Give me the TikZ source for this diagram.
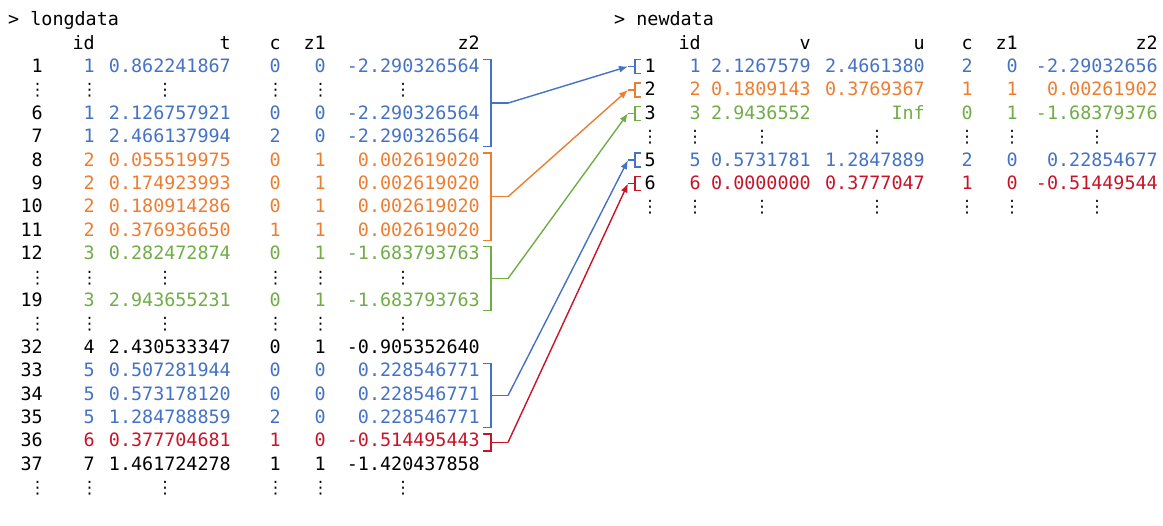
\documentclass[tikz,border=0pt]{standalone}
\usepackage{fontspec}
\setmonofont{DejaVu Sans Mono}
\newfontfamily\dvsans{DejaVu Sans}
\usetikzlibrary{arrows.meta}

\definecolor{cblue}{RGB}{68,114,196}
\definecolor{corange}{RGB}{237,125,49}
\definecolor{cgreen}{RGB}{112,173,71}
\definecolor{cred}{RGB}{200,20,40}

\newcommand{\lrow}[8]{%
  \node[cell] (l#1rn) at (43,{25.7+23.4*#1}) {#3};
  \node[cell,#2] (l#1id) at (95,{25.7+23.4*#1}) {#4};
  \node[cell,#2] (l#1t) at (231,{25.7+23.4*#1}) {#5};
  \node[cell,#2] (l#1c) at (281,{25.7+23.4*#1}) {#6};
  \node[cell,#2] (l#1za) at (326,{25.7+23.4*#1}) {#7};
  \node[cell,#2] (l#1zb) at (480,{25.7+23.4*#1}) {#8};
}
\newcommand{\ldts}[1]{%
  \foreach \x/\n in {37.5/rn,89.5/id,165/t,275.5/c,320.5/za,403/zb}
    \node[dts] (l#1\n) at (\x,{25.7+23.4*#1}) {⋮};
}
\newcommand{\rrow}[9]{%
  \node[cell] (r#1rn) at (656,{25.7+23.4*#1}) {#3};
  \node[cell,#2] (r#1id) at (701,{25.7+23.4*#1}) {#4};
  \node[cell,#2] (r#1v) at (811,{25.7+23.4*#1}) {#5};
  \node[cell,#2] (r#1u) at (925,{25.7+23.4*#1}) {#6};
  \node[cell,#2] (r#1c) at (973,{25.7+23.4*#1}) {#7};
  \node[cell,#2] (r#1za) at (1018,{25.7+23.4*#1}) {#8};
  \node[cell,#2] (r#1zb) at (1158,{25.7+23.4*#1}) {#9};
}
\newcommand{\rdts}[1]{%
  \foreach \x/\n in {650/rn,695/id,762/v,877/u,967/c,1012/za,1097/zb}
    \node[dts] (r#1\n) at (\x,{25.7+23.4*#1}) {⋮};
}
% bracket ] on the left, tick to the right
\newcommand{\lbrk}[4]{%
  \draw[brk,#2] (483,{25.7+23.4*#3-13}) -- (491,{25.7+23.4*#3-13})
    -- (491,{25.7+23.4*#4+4}) -- (483,{25.7+23.4*#4+4});
  \draw[brk,#2] (491,{25.7+23.4*(#3+#4)/2-4.5}) -- (508,{25.7+23.4*(#3+#4)/2-4.5}) coordinate (#1);
}
% bracket [ on the right, tick to the left
\newcommand{\rbrk}[3]{%
  \draw[brk,#2] (641,{25.7+23.4*#3-13}) -- (635,{25.7+23.4*#3-13})
    -- (635,{25.7+23.4*#3+1}) -- (641,{25.7+23.4*#3+1});
  \draw[brk,#2] (635,{25.7+23.4*#3-6}) -- (628,{25.7+23.4*#3-6}) coordinate (#1);
}

\tikzset{
  cell/.style={anchor=base east, inner sep=0pt, font=\fontsize{18.4}{22}\selectfont\ttfamily},
  dts/.style={anchor=base, inner sep=0pt, font=\fontsize{17}{20}\selectfont\dvsans},
  brk/.style={line width=1.4pt},
  lnk/.style={line width=1.4pt, ->, >={Latex[length=9pt,width=7pt]}}
}

\begin{document}
\begin{tikzpicture}[x=1pt,y=-1pt]
\useasboundingbox (0,0) rectangle (1163,526);

\node[cell,anchor=base west] (ltitle) at (8,25.7) {> longdata};
\node[cell] (lhid) at (95,49.1) {id};
\node[cell] (lht) at (231,49.1) {t};
\node[cell] (lhc) at (281,49.1) {c};
\node[cell] (lhza) at (326,49.1) {z1};
\node[cell] (lhzb) at (480,49.1) {z2};

\lrow{2}{cblue}{1}{1}{0.862241867}{0}{0}{-2.290326564}
\ldts{3}
\lrow{4}{cblue}{6}{1}{2.126757921}{0}{0}{-2.290326564}
\lrow{5}{cblue}{7}{1}{2.466137994}{2}{0}{-2.290326564}
\lrow{6}{corange}{8}{2}{0.055519975}{0}{1}{0.002619020}
\lrow{7}{corange}{9}{2}{0.174923993}{0}{1}{0.002619020}
\lrow{8}{corange}{10}{2}{0.180914286}{0}{1}{0.002619020}
\lrow{9}{corange}{11}{2}{0.376936650}{1}{1}{0.002619020}
\lrow{10}{cgreen}{12}{3}{0.282472874}{0}{1}{-1.683793763}
\ldts{11}
\lrow{12}{cgreen}{19}{3}{2.943655231}{0}{1}{-1.683793763}
\ldts{13}
\lrow{14}{black}{32}{4}{2.430533347}{0}{1}{-0.905352640}
\lrow{15}{cblue}{33}{5}{0.507281944}{0}{0}{0.228546771}
\lrow{16}{cblue}{34}{5}{0.573178120}{0}{0}{0.228546771}
\lrow{17}{cblue}{35}{5}{1.284788859}{2}{0}{0.228546771}
\lrow{18}{cred}{36}{6}{0.377704681}{1}{0}{-0.514495443}
\lrow{19}{black}{37}{7}{1.461724278}{1}{1}{-1.420437858}
\ldts{20}

\node[cell,anchor=base west] (rtitle) at (614,25.7) {> newdata};
\node[cell] (rhid) at (701,49.1) {id};
\node[cell] (rhv) at (811,49.1) {v};
\node[cell] (rhu) at (925,49.1) {u};
\node[cell] (rhc) at (973,49.1) {c};
\node[cell] (rhza) at (1018,49.1) {z1};
\node[cell] (rhzb) at (1158,49.1) {z2};

\rrow{2}{cblue}{1}{1}{2.1267579}{2.4661380}{2}{0}{-2.29032656}
\rrow{3}{corange}{2}{2}{0.1809143}{0.3769367}{1}{1}{0.00261902}
\rrow{4}{cgreen}{3}{3}{2.9436552}{Inf}{0}{1}{-1.68379376}
\rdts{5}
\rrow{6}{cblue}{5}{5}{0.5731781}{1.2847889}{2}{0}{0.22854677}
\rrow{7}{cred}{6}{6}{0.0000000}{0.3777047}{1}{0}{-0.51449544}
\rdts{8}

\lbrk{la}{cblue}{2}{5}
\lbrk{lb}{corange}{6}{9}
\lbrk{lc}{cgreen}{10}{12}
\lbrk{ld}{cblue}{15}{17}
\lbrk{le}{cred}{18}{18}

\rbrk{ra}{cblue}{2}
\rbrk{rb}{corange}{3}
\rbrk{rc}{cgreen}{4}
\rbrk{rd}{cblue}{6}
\rbrk{re}{cred}{7}

\draw[lnk,cblue] (la) -- (ra);
\draw[lnk,corange] (lb) -- (rb);
\draw[lnk,cgreen] (lc) -- (rc);
\draw[lnk,cblue] (ld) -- (rd);
\draw[lnk,cred] (le) -- (re);
\end{tikzpicture}
\end{document}
